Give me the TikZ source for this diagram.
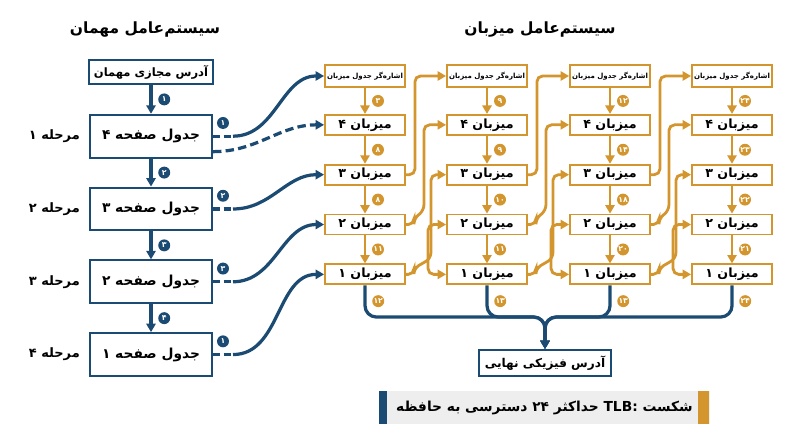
\documentclass[tikz,border=0pt]{standalone}
\usepackage{fontspec}
\newfontfamily\fa[Script=Arabic]{DejaVu Sans}
\newfontfamily\nm{DejaVu Sans}
\TeXXeTstate=1
\usetikzlibrary{positioning,calc,arrows.meta}
\definecolor{navy}{HTML}{1B4B73}
\definecolor{gold}{HTML}{D3952D}
\newcommand{\rtl}[1]{\beginR #1\endR}

\begin{document}
\begin{tikzpicture}[x=0.025cm,y=-0.025cm,>={Triangle[length=6pt,width=6.5pt]},
  gbox/.style={draw=navy,line width=1.4pt,fill=white,minimum width=3.05cm,font=\fa\bfseries\fontsize{9.8}{11}\selectfont},
  hbox/.style={draw=gold,line width=1.3pt,fill=white,minimum width=2cm,minimum height=0.5cm,inner sep=1pt,font=\fa\bfseries\fontsize{9}{10}\selectfont},
  gnum/.style={circle,fill=navy,text=white,inner sep=0pt,minimum size=8.5pt,font=\nm\bfseries\fontsize{5.5}{6}\selectfont},
  hnum/.style={gnum,fill=gold},
  blink/.style={navy,line width=2.3pt},
  glink/.style={gold,line width=2pt,rounded corners=4pt},
  stub/.style={blink,dash pattern=on 5pt off 2.5pt},
  headline/.style={font=\fa\bfseries\fontsize{11}{13}\selectfont},
  stage/.style={font=\fa\bfseries\fontsize{9.2}{10}\selectfont}]

  \useasboundingbox (0,0) rectangle (800,447);

  \node[headline] (gt) at (145,30) {\rtl{سیستم^^^^200cعامل مهمان}};
  \node[headline] (ht) at (540,30) {\rtl{سیستم^^^^200cعامل میزبان}};

  % guest side
  \node[gbox,minimum height=0.6cm,font=\fa\bfseries\fontsize{8.2}{9}\selectfont] (va) at (151,72) {\rtl{آدرس مجازی مهمان}};
  \node[gbox,minimum height=1.07cm,below=0.72cm of va] (g4) {\rtl{جدول صفحه ۴}};
  \node[gbox,minimum height=1.07cm,below=0.7cm of g4] (g3) {\rtl{جدول صفحه ۳}};
  \node[gbox,minimum height=1.07cm,below=0.7cm of g3] (g2) {\rtl{جدول صفحه ۲}};
  \node[gbox,minimum height=1.07cm,below=0.7cm of g2] (g1) {\rtl{جدول صفحه ۱}};
  \node[stage,left=3pt of g4] (s1) {\rtl{مرحله ۱}};
  \node[stage,left=3pt of g3] (s2) {\rtl{مرحله ۲}};
  \node[stage,left=3pt of g2] (s3) {\rtl{مرحله ۳}};
  \node[stage,left=3pt of g1] (s4) {\rtl{مرحله ۴}};
  \draw[blink,->] (va) -- node[gnum,right=4pt]{۱} (g4);
  \draw[blink,->] (g4) -- node[gnum,right=4pt]{۲} (g3);
  \draw[blink,->] (g3) -- node[gnum,right=4pt]{۳} (g2);
  \draw[blink,->] (g2) -- node[gnum,right=4pt]{۴} (g1);

  % host side
  \coordinate (mrg) at (545,317);
  \node[draw=navy,line width=1.4pt,fill=white,minimum width=3.3cm,minimum height=0.65cm,
    font=\fa\bfseries\fontsize{8.6}{10}\selectfont] (fin) at (545,363) {\rtl{آدرس فیزیکی نهایی}};
  \foreach \i/\x/\a/\b/\c/\d/\e in {1/365/۳/۸/۸/۱۱/۱۲,2/487/۹/۹/۱۰/۱۱/۱۳,3/610/۱۲/۱۴/۱۸/۲۰/۱۳,4/732/۲۴/۲۳/۲۲/۲۱/۲۴}{
    \node[hbox,minimum height=0.55cm,font=\fa\bfseries\fontsize{5}{6}\selectfont] (ptr\i) at (\x,76) {\rtl{اشاره^^^^200cگر جدول میزبان}};
    \node[hbox,below=0.65cm of ptr\i] (hst\i-4) {\rtl{میزبان ۴}};
    \node[hbox,below=0.7cm of hst\i-4] (hst\i-3) {\rtl{میزبان ۳}};
    \node[hbox,below=0.7cm of hst\i-3] (hst\i-2) {\rtl{میزبان ۲}};
    \node[hbox,below=0.7cm of hst\i-2] (hst\i-1) {\rtl{میزبان ۱}};
    \draw[gold,line width=2pt,->] (ptr\i) -- node[hnum,right=4pt]{\a} (hst\i-4);
    \draw[gold,line width=2pt,->] (hst\i-4) -- node[hnum,right=4pt]{\b} (hst\i-3);
    \draw[gold,line width=2pt,->] (hst\i-3) -- node[hnum,right=4pt]{\c} (hst\i-2);
    \draw[gold,line width=2pt,->] (hst\i-2) -- node[hnum,right=4pt]{\d} (hst\i-1);
    \draw[blink,rounded corners=8pt,->] (hst\i-1) |- node[hnum,pos=0.25,right=4pt]{\e} (mrg) -- (fin);
  }
  \foreach \i/\j in {1/2,2/3,3/4}{
    \draw[glink,->] (hst\i-3.east) -- ++(9,0) |- (ptr\j.west);
    \draw[glink,->] (hst\i-2.east) -- ++(8,0) -- ++(0,-6) -- ++(10,-8) |- (hst\j-4.west);
    \draw[glink,->] (hst\i-1.east) -- ++(8,0) -- ++(0,-6) -- ++(17,-10) |- (hst\j-3.west);
    \draw[glink,<->] (hst\j-2.west) -- ++(-18,0) |- (hst\j-1.west);
  }

  % guest to host
  \draw[stub] (g4.east) -- node[gnum,above=4pt]{۱} ++(20,0) coordinate (p4);
  \draw[blink,->] (p4) to[out=0,in=180] (ptr1.west);
  \draw[blink,dash pattern=on 6pt off 3pt,->] ([yshift=-11pt]g4.east) to[out=0,in=180] (hst1-4.west);
  \draw[stub] (g3.east) -- node[gnum,above=4pt]{۲} ++(20,0) coordinate (p3);
  \draw[blink,->] (p3) to[out=0,in=180] (hst1-3.west);
  \draw[stub] (g2.east) -- node[gnum,above=4pt]{۳} ++(20,0) coordinate (p2);
  \draw[blink,->] (p2) to[out=0,in=180] (hst1-2.west);
  \draw[stub] (g1.east) -- node[gnum,above=4pt]{۱} ++(20,0) coordinate (p1);
  \draw[blink,->] (p1) to[out=0,in=180] (hst1-1.west);

  % banner
  \node[fill=gray!13,minimum width=8.28cm,minimum height=0.83cm,
    font=\fa\bfseries\fontsize{9.8}{12}\selectfont] (ban) at (544.5,407.5)
    {\rtl{شکست \beginL{\nm TLB:}\endL{} حداکثر ۲۴ دسترسی به حافظه}};
  \fill[navy] (ban.north west) rectangle ([xshift=5.7pt]ban.south west);
  \fill[gold] ([xshift=-8.5pt]ban.north east) rectangle ([xshift=-1pt]ban.south east);

\end{tikzpicture}
\end{document}
